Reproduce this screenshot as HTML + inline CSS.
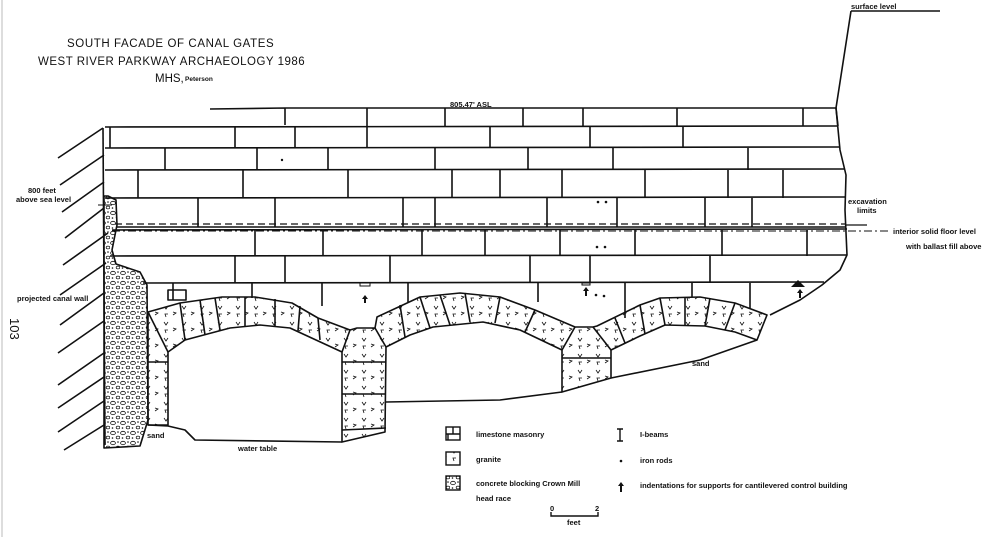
<!DOCTYPE html>
<html><head><meta charset="utf-8"><style>
html,body{margin:0;padding:0;background:#fff;}
svg{display:block;}
text{font-family:"Liberation Sans",sans-serif;fill:#111;}
.b{font-weight:bold;font-size:7.5px;}
</style></head><body>
<svg width="1000" height="537" viewBox="0 0 1000 537" xmlns="http://www.w3.org/2000/svg">
<defs>
<pattern id="gr" width="18" height="16" patternUnits="userSpaceOnUse">
<path d="M2 2 l2 3 l2 -3 M11 8 l3 1 l-3 2 M4 13 l-1 -3 l3 0" fill="none" stroke="#111" stroke-width="0.8"/>
</pattern>
<pattern id="cc" width="10" height="10" patternUnits="userSpaceOnUse">
<ellipse cx="3" cy="3" rx="2.4" ry="1.7" fill="none" stroke="#111" stroke-width="0.8"/>
<ellipse cx="8" cy="7.5" rx="1.8" ry="1.4" fill="none" stroke="#111" stroke-width="0.8"/>
<circle cx="8" cy="2" r="0.8" fill="#111"/><circle cx="2.5" cy="8" r="0.8" fill="#111"/>
</pattern>
</defs>
<rect width="1000" height="537" fill="#fff"/>
<line x1="2" y1="0" x2="2" y2="537" stroke="#ddd" stroke-width="2"/>

<text x="67" y="47" font-size="11.5" letter-spacing="0.6">SOUTH FACADE OF CANAL GATES</text>
<text x="38" y="65" font-size="11.5" letter-spacing="0.5">WEST RIVER PARKWAY ARCHAEOLOGY 1986</text>
<text x="155" y="82" font-size="11.5">MHS,</text>
<text x="185" y="81" font-size="6.5" font-weight="bold">Peterson</text>
<text x="851" y="9" class="b" font-size="7">surface level</text>
<text x="450" y="107" class="b">805.47' ASL</text>
<text x="848" y="204" class="b">excavation</text>
<text x="857" y="213" class="b">limits</text>
<text x="893" y="234" class="b">interior solid floor level</text>
<text x="906" y="249" class="b">with ballast fill above</text>
<text x="28" y="193" class="b">800 feet</text>
<text x="16" y="202" class="b">above sea level</text>
<text x="17" y="301" class="b">projected canal wall</text>
<text x="10" y="318" font-size="13" transform="rotate(90 10 318)">103</text>
<text x="147" y="438" class="b">sand</text>
<text x="238" y="451" class="b">water table</text>
<text x="692" y="366" class="b">sand</text>

<g fill="none" stroke="#111" stroke-width="1.6" stroke-linejoin="round">
<path d="M851 11 L940 11 M851 11 L836 108"/>
<path d="M58 158 L103 128 M60 185 L104 155 M62 212 L104 182 M65 238 L104 208 M63 265 L108 233 M60 295 L106 263 M60 325 L104 293 M58 353 L104 321 M58 385 L104 353 M58 408 L104 377 M58 432 L104 401 M64 450 L104 425"/>
<path d="M103 128 L105 445"/>
<path d="M210 109 L285 108 L285 125 M285 108 L836 108 L838 126"/>
<path d="M105 127 L838 126 M105 148 L840 147 M105 170 L845 169 M105 198 L845 197 M112 230 L847 229 M110 256 L847 255 M143 283 L824 282"/>
<path d="M110 127 L110 148 M235 127 L235 148 M295 127 L295 148 M367 108 L367 148 M490 127 L490 148 M590 127 L590 148 M683 127 L683 148 M445 108 L445 126 M523 108 L523 126 M583 108 L583 126 M677 108 L677 126 M803 108 L803 126"/>
<path d="M165 148 L165 170 M257 148 L257 170 M328 148 L328 170 M435 148 L435 170 M528 148 L528 170 M613 148 L613 170 M748 148 L748 170"/>
<path d="M138 170 L138 198 M243 170 L243 198 M348 170 L348 198 M452 170 L452 198 M500 170 L500 198 M562 170 L562 198 M645 170 L645 198 M728 170 L728 198 M783 170 L783 198"/>
<path d="M198 198 L198 227 M275 198 L275 227 M403 198 L403 227 M435 198 L435 227 M547 198 L547 227 M617 198 L617 227 M705 198 L705 227 M752 198 L752 227 M117 227 L845 227"/>
<path d="M255 230 L255 256 M323 230 L323 256 M422 230 L422 256 M485 230 L485 256 M560 230 L560 256 M635 230 L635 256 M722 230 L722 256 M807 230 L807 256"/>
<path d="M235 256 L235 283 M285 256 L285 283 M390 256 L390 283 M530 256 L530 283 M590 256 L590 283 M710 256 L710 283"/>
<path d="M173 283 L173 300 M252 283 L252 298 M322 283 L322 306 M408 283 L408 302 M538 283 L538 302 M625 283 L625 318 M692 283 L692 297 M750 283 L750 308"/>
<path d="M168 290 L186 290 L186 300 L168 300 Z"/>
<path d="M836 108 L840 150 L846 175 L845 210 L847 255 L840 270 L822 285 L800 300 L770 315"/>
<path d="M108 196 L116 200 L117 225 L112 250 L116 264 L140 272 L147 285 L148 420 L140 446 L104 448 L104 196 Z" fill="url(#cc)"/>
<path d="M148 312 L180 303 L222 297 L255 297 L292 303 L318 318 L350 330 L357 328 L375 328 L377 317 L420 297 L460 293 L500 297 L535 310 L575 327 L593 327 L597 326 L640 305 L660 298 L700 297 L735 303 L767 315 L757 340 L735 332 L705 326 L665 325 L640 336 L611 350 L611 378 L562 392 L562 350 L520 330 L483 322 L433 327 L410 335 L386 347 L385 432 L342 442 L342 352 L290 328 L260 325 L230 328 L185 340 L168 352 L168 425 L148 425 Z" fill="url(#gr)"/>
<path d="M148 312 L168 352 M180 303 L185 340 M200 300 L205 335 M215 298 L220 330 M245 297 L245 326 M275 299 L275 326 M300 306 L298 331 M318 318 L320 340 M350 330 L342 352 M375 328 L386 347 M400 305 L405 337 M420 297 L430 328 M440 295 L450 325 M465 293 L470 322 M500 297 L495 323 M535 310 L525 332 M575 327 L562 350 M593 327 L611 350 M615 318 L625 343 M640 305 L645 334 M660 298 L665 325 M685 297 L685 325 M710 298 L705 326 M735 303 L725 330 M148 362 L168 362 M342 362 L386 362 M342 394 L386 394 M342 430 L386 428 M562 358 L611 358"/>
<path d="M148 425 L168 426 L185 430 L195 440 L342 442 M386 402 L500 400 L562 392 M611 378 L700 360 L757 340"/>
<path d="M845 225 L867 225" stroke-width="1.2"/>
</g>
<path d="M115 224 L845 224" stroke="#111" stroke-width="1.2" stroke-dasharray="7 4"/>
<path d="M112 231 L890 231" stroke="#111" stroke-width="1" stroke-dasharray="8 3 2 3"/>
<path d="M98 205 L112 205" stroke="#111" stroke-width="1"/>
<g fill="#111">
<circle cx="282" cy="160" r="1.2"/><circle cx="598" cy="202" r="1.3"/><circle cx="606" cy="202" r="1.3"/>
<circle cx="597" cy="247" r="1.3"/><circle cx="605" cy="247" r="1.3"/><circle cx="596" cy="295" r="1.3"/><circle cx="604" cy="296" r="1.3"/>
<path d="M365 295 l-3 4 h2 v4 h2 v-4 h2 z"/><path d="M586 287 l-3 4 h2 v5 h2 v-5 h2 z"/><path d="M800 289 l-3 4 h2 v5 h2 v-5 h2 z"/>
<path d="M791 287 l7 -7 l7 7 z"/>
</g>
<path d="M360 283 h10 v3 h-10 z M582 283 h8 v2 h-8 z" fill="none" stroke="#111"/>
<g fill="none" stroke="#111" stroke-width="1.4">
<rect x="446" y="427" width="14" height="13"/><path d="M446 434 H460 M453 427 V434 M448 434 V440"/>
<rect x="446" y="452" width="14" height="13" fill="url(#gr)"/>
<rect x="446" y="476" width="14" height="14" fill="url(#cc)"/>
<path d="M617 429 h6 M620 429 v12 M617 441 h6"/>
<path d="M551 512 v4 H598 v-4"/>
</g>
<circle cx="621" cy="461" r="1.3" fill="#111"/>
<path d="M621 482 l-3 4 h2 v6 h2 v-6 h2 z" fill="#111"/>
<text x="476" y="437" class="b">limestone masonry</text>
<text x="476" y="462" class="b">granite</text>
<text x="476" y="486" class="b">concrete blocking Crown Mill</text>
<text x="476" y="501" class="b">head race</text>
<text x="640" y="437" class="b">I-beams</text>
<text x="640" y="463" class="b">iron rods</text>
<text x="640" y="488" class="b">indentations for supports for cantilevered control building</text>
<text x="550" y="511" class="b">0</text><text x="595" y="511" class="b">2</text>
<text x="567" y="525" class="b">feet</text>
</svg>
</body></html>
